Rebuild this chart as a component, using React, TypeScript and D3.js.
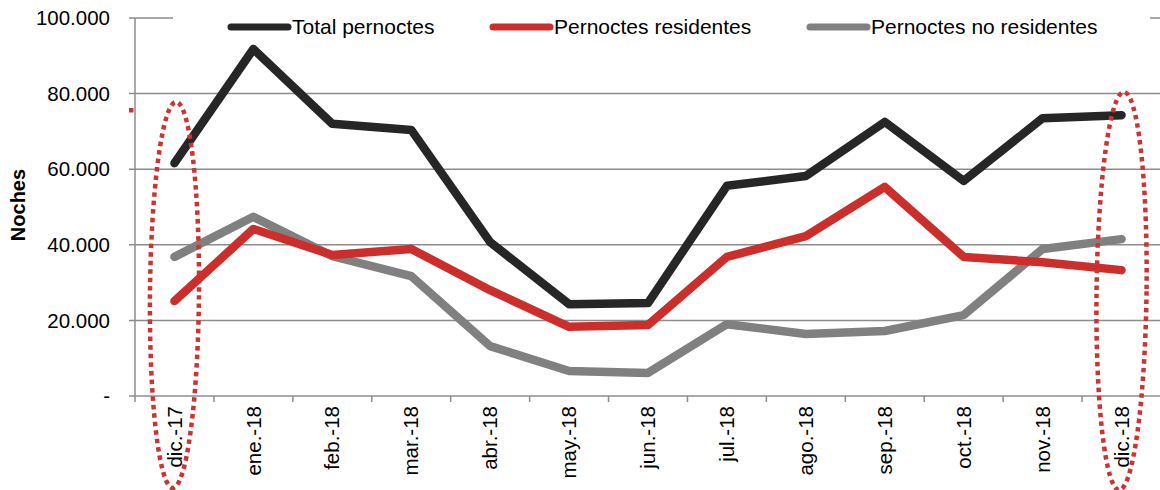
import React from "react";
import * as d3 from "d3";

const categories = ["dic.-17", "ene.-18", "feb.-18", "mar.-18", "abr.-18", "may.-18", "jun.-18", "jul.-18", "ago.-18", "sep.-18", "oct.-18", "nov.-18", "dic.-18"];
const total = [61600, 91800, 72000, 70400, 40700, 24300, 24600, 55600, 58200, 72500, 56900, 73500, 74300];
const residentes = [25100, 44200, 37300, 38900, 28000, 18300, 18800, 36800, 42300, 55300, 36800, 35400, 33300];
const noResidentes = [36800, 47400, 37000, 31700, 13200, 6600, 6100, 19000, 16400, 17200, 21400, 38900, 41500];
const yTicks = [0, 20000, 40000, 60000, 80000, 100000];
const tickLabels = ["-", "20.000", "40.000", "60.000", "80.000", "100.000"];

const series = [
  { name: "Total pernoctes", values: total, color: "#262626" },
  { name: "Pernoctes residentes", values: residentes, color: "#cc2e2b" },
  { name: "Pernoctes no residentes", values: noResidentes, color: "#808080" },
];

export default function App() {
  const width = 1160;
  const height = 490;
  const left = 135;
  const right = 1161;
  const top = 18;
  const bottom = 396;

  const x = d3.scaleBand().domain(categories).range([left, right]);
  const y = d3.scaleLinear().domain([0, 100000]).range([bottom, top]);
  const cx = (c: string) => (x(c) as number) + x.bandwidth() / 2;

  const line = d3
    .line<number>()
    .x((_, i) => cx(categories[i]))
    .y((d) => y(d));

  const legendX = [231, 493, 810];
  const font = "'Liberation Sans', Arial, sans-serif";
  const grid = "#8c8c8c";

  return (
    <svg width={width} height={height} style={{ position: "absolute", left: 0, top: 0 }} fontFamily={font}>
      {/* gridlines */}
      {yTicks.map((t, i) => (
        <g key={t}>
          <line x1={left - 6} x2={right} y1={y(t)} y2={y(t)} stroke={grid} strokeWidth={1.5} />
          <text x={110} y={y(t)} dy="0.35em" textAnchor="end" fontSize={20.5} fill="#000">
            {tickLabels[i]}
          </text>
        </g>
      ))}
      {/* axes */}
      <line x1={left} x2={left} y1={top} y2={bottom + 6} stroke={grid} strokeWidth={1.5} />
      {categories.map((c, i) => (
        <line key={c} x1={left + x.bandwidth() * (i + 1)} x2={left + x.bandwidth() * (i + 1)} y1={bottom} y2={bottom + 6} stroke={grid} strokeWidth={1.5} />
      ))}
      {categories.map((c) => (
        <text key={c} transform={`translate(${cx(c)},406) rotate(-90)`} dy="0.35em" textAnchor="end" fontSize={20.5} fill="#000">
          {c}
        </text>
      ))}
      <text transform={`translate(18,205) rotate(-90)`} dy="0.35em" textAnchor="middle" fontSize={20} fontWeight="bold">
        Noches
      </text>

      {/* legend background */}
      <rect x={173} y={8} width={977} height={36} fill="#fff" />
      {series.map((s, i) => (
        <g key={s.name}>
          <line x1={legendX[i]} x2={legendX[i] + 57} y1={27} y2={27} stroke={s.color} strokeWidth={7} strokeLinecap="round" />
          <text x={legendX[i] + 61} y={27} dy="0.35em" fontSize={21} fill="#000">
            {s.name}
          </text>
        </g>
      ))}

      {/* series */}
      {[...series].reverse().map((s) => (
        <path key={s.name} d={line(s.values) || ""} fill="none" stroke={s.color} strokeWidth={8.5} strokeLinejoin="round" strokeLinecap="round" />
      ))}

      {/* highlight ellipses */}
      <ellipse cx={cx(categories[0])} cy={295} rx={24.5} ry={193} transform={`rotate(0.5,${cx(categories[0])},295)`} fill="none" stroke="#cc3333" strokeWidth={4.5} strokeDasharray="4.5 4" />
      <ellipse cx={cx(categories[12])} cy={291} rx={25} ry={199} transform={`rotate(0.7,${cx(categories[12])},291)`} fill="none" stroke="#cc3333" strokeWidth={4.5} strokeDasharray="4.5 4" />
      <rect x={129} y={108} width={4.5} height={4.5} fill="#cc3333" />
    </svg>
  );
}
